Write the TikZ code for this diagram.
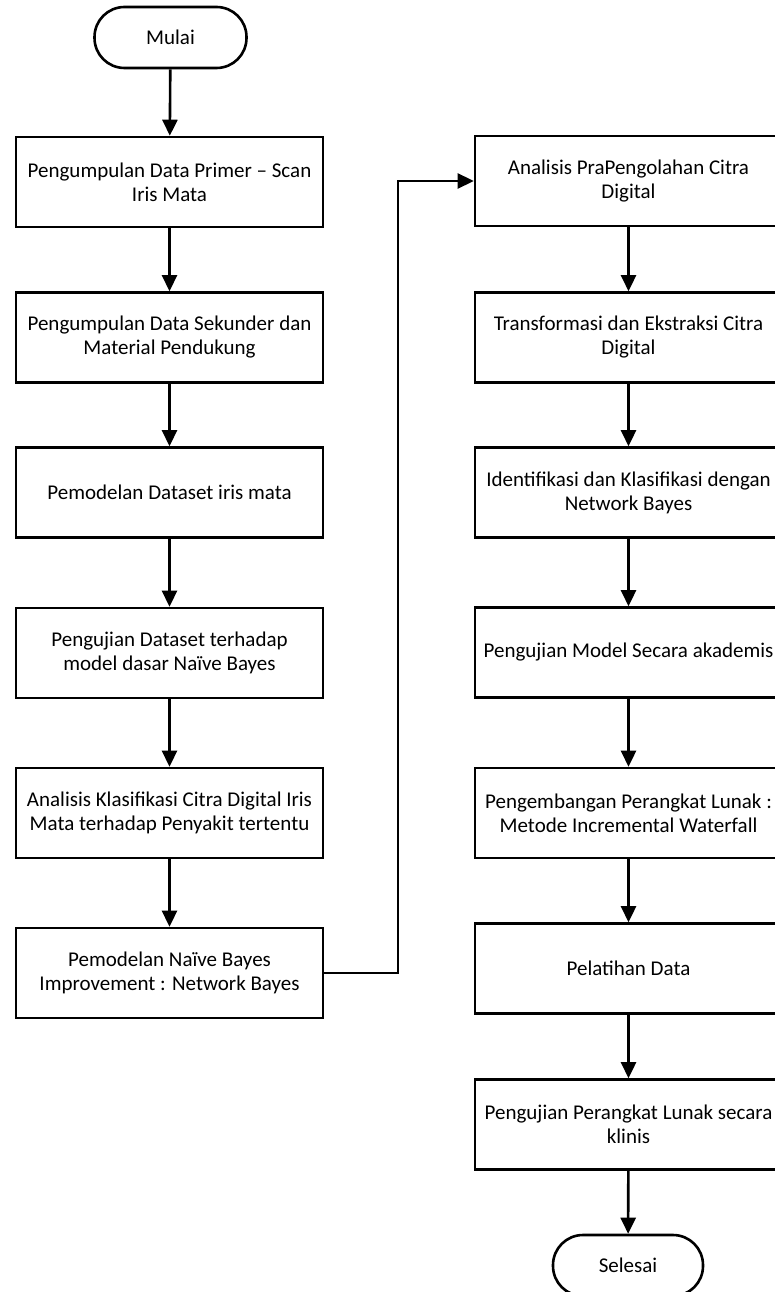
\documentclass[tikz,border=0pt]{standalone}
\usepackage{fontspec}
\setmainfont{Carlito}
\usetikzlibrary{arrows.meta}

\tikzset{
  procbox/.style={draw, line width=2.6pt, rectangle, minimum width=307pt,
    minimum height=90pt, align=center, inner sep=2pt,
    font=\fontsize{21}{24}\selectfont},
  termbox/.style={draw, line width=2.6pt, rectangle, rounded corners=30pt,
    minimum width=152pt, minimum height=61pt, align=center,
    font=\fontsize{21}{24}\selectfont},
  flow/.style={line width=2.6pt, -{Triangle[length=16pt,width=15pt]}},
  link/.style={line width=2.6pt}
}

\begin{document}
\begin{tikzpicture}[x=1pt, y=-1pt]
\useasboundingbox (0,0) rectangle (775,1292);

% left column
\node[termbox] (mulai) at (170.5,37.5) {Mulai};
\node[procbox] (b1) at (169.5,182) {Pengumpulan Data Primer -- Scan\\Iris Mata};
\node[procbox] (b2) at (169.5,337.5) {Pengumpulan Data Sekunder dan\\Material Pendukung};
\node[procbox] (b3) at (169.5,492.5) {Pemodelan Dataset iris mata};
\node[procbox] (b4) at (169.5,653) {Pengujian Dataset terhadap\\model dasar Naïve Bayes};
\node[procbox] (b5) at (169.5,813) {Analisis Klasifikasi Citra Digital Iris\\Mata terhadap Penyakit tertentu};
\node[procbox] (b6) at (169.5,973) {Pemodelan Naïve Bayes\\Improvement : Network Bayes};

% right column
\node[procbox] (b7) at (628.5,181) {Analisis PraPengolahan Citra\\Digital};
\node[procbox] (b8) at (628.5,337.5) {Transformasi dan Ekstraksi Citra\\Digital};
\node[procbox] (b9) at (628.5,492.5) {Identifikasi dan Klasifikasi dengan\\Network Bayes};
\node[procbox] (b10) at (628.5,652.5) {Pengujian Model Secara akademis};
\node[procbox] (b11) at (628.5,813) {Pengembangan Perangkat Lunak :\\Metode Incremental Waterfall};
\node[procbox] (b12) at (628.5,968.5) {Pelatihan Data};
\node[procbox] (b13) at (628.5,1124.5) {Pengujian Perangkat Lunak secara\\klinis};
\node[termbox, minimum width=150pt] (selesai) at (628,1265.5) {Selesai};

% connectors
\draw[flow] (mulai) -- (b1);
\draw[flow] (b1) -- (b2);
\draw[flow] (b2) -- (b3);
\draw[flow] (b3) -- (b4);
\draw[flow] (b4) -- (b5);
\draw[flow] (b5) -- (b6);
\coordinate (turn) at (398,973);
\draw[flow] (b6.east) -- (turn) |- (b7.west);
\draw[flow] (b7) -- (b8);
\draw[flow] (b8) -- (b9);
\draw[flow] (b9) -- (b10);
\draw[flow] (b10) -- (b11);
\draw[flow] (b11) -- (b12);
\draw[flow] (b12) -- (b13);
\draw[flow] (b13) -- (selesai);
\end{tikzpicture}
\end{document}
